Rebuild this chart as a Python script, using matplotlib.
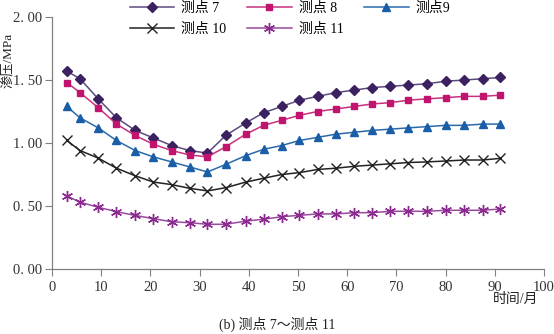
import matplotlib.pyplot as plt
from matplotlib.ticker import FuncFormatter

# 时间/月
months = [3.0, 5.7, 9.4, 13.1, 16.9, 20.6, 24.3, 28.0, 31.6, 35.3, 39.4, 43.0, 46.7,
          50.3, 54.0, 57.7, 61.4, 65.1, 68.8, 72.4, 76.2, 80.0, 83.8, 87.5, 91.1]

# 渗压/MPa
p7 = [1.57, 1.51, 1.35, 1.20, 1.10, 1.04, 0.98, 0.94, 0.92, 1.06, 1.16, 1.24, 1.29,
      1.34, 1.37, 1.40, 1.42, 1.44, 1.45, 1.46, 1.47, 1.49, 1.50, 1.51, 1.52]
p8 = [1.48, 1.40, 1.28, 1.15, 1.06, 0.99, 0.94, 0.905, 0.89, 0.97, 1.07, 1.14, 1.18,
      1.22, 1.25, 1.27, 1.29, 1.31, 1.32, 1.34, 1.35, 1.36, 1.37, 1.37, 1.38]
p9 = [1.29, 1.20, 1.12, 1.02, 0.94, 0.89, 0.85, 0.81, 0.77, 0.83, 0.90, 0.95, 0.98,
      1.02, 1.045, 1.07, 1.085, 1.10, 1.11, 1.12, 1.13, 1.14, 1.14, 1.15, 1.15]
p10 = [1.02, 0.94, 0.88, 0.80, 0.74, 0.69, 0.67, 0.64, 0.62, 0.645, 0.69, 0.72, 0.75,
       0.765, 0.79, 0.80, 0.815, 0.825, 0.835, 0.845, 0.85, 0.857, 0.865, 0.865, 0.878]
p11 = [0.58, 0.53, 0.49, 0.455, 0.425, 0.40, 0.375, 0.367, 0.355, 0.355, 0.38, 0.395, 0.415,
       0.426, 0.437, 0.437, 0.447, 0.447, 0.458, 0.458, 0.458, 0.466, 0.466, 0.466, 0.476]

series = [
    ("测点 7", p7, "#3b2160", "#5b4a80", "D", 5.0),
    ("测点 8", p8, "#c0146e", "#c8307e", "s", 5.0),
    ("测点9", p9, "#1a5ea8", "#2a6aac", "^", 6.0),
    ("测点 10", p10, "#222222", "#222222", "x", 6.5),
    ("测点 11", p11, "#8a2a8e", "#9a4a9e", (6, 2, 0), 8.0),
]

fonts = ["Liberation Serif", "Noto Sans CJK SC"]
plt.rcParams["font.family"] = fonts

fig = plt.figure(figsize=(5.54, 3.34), dpi=100)
ax = fig.add_axes([52 / 554, 1 - 269 / 334, 492 / 554, 252 / 334])

lines = []
for label, vals, mcolor, lcolor, marker, ms in series:
    ln, = ax.plot(months, vals, color=lcolor, linewidth=1.1, marker=marker, markersize=ms,
                  markerfacecolor=mcolor, markeredgecolor=mcolor, markeredgewidth=1.0,
                  label=label)
    lines.append(ln)

ax.set_xlim(0, 100)
ax.set_ylim(0, 2.0)
ax.set_xticks(range(0, 101, 10))
ax.set_yticks([0, 0.5, 1.0, 1.5, 2.0])
ax.yaxis.set_major_formatter(FuncFormatter(lambda v, _: f"{v:.2f}".replace(".", ". ")))

for side in ("top", "right"):
    ax.spines[side].set_visible(False)
for side in ("left", "bottom"):
    ax.spines[side].set_color("#808080")
    ax.spines[side].set_linewidth(0.9)
ax.tick_params(direction="out", length=5, width=0.8, color="#808080",
               labelsize=10.5, labelcolor="#333333")
ax.tick_params(axis="y", pad=2)

fig.text(8 / 554, 1 - 60 / 334, "渗压/MPa", rotation=90, ha="center", va="center",
         fontsize=9.5, color="#222222")
fig.text(538 / 554, 1 - 299 / 334, "时间/月", ha="right", va="center",
         fontsize=10, color="#222222")
fig.text(0.5, 1 - 324 / 334, "(b) 测点 7～测点 11", ha="center", va="center",
         fontsize=10, color="#222222")

# row-major order in a 3-column legend: 7 8 9 / 10 11
order = [0, 3, 1, 4, 2]
fig.legend([lines[i] for i in order], [series[i][0] for i in order],
           loc="center", bbox_to_anchor=(290 / 554, 1 - 19 / 334), ncol=3,
           frameon=False, fontsize=10, handlelength=3.2, columnspacing=1.5,
           handletextpad=0.5, labelspacing=0.55, borderaxespad=0)

fig.savefig("out.png", dpi=100)
